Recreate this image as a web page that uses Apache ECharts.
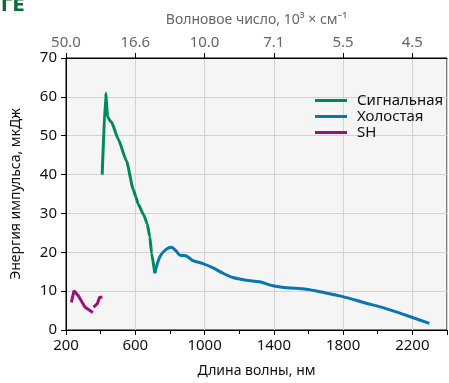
<!DOCTYPE html>
<html><head><meta charset="utf-8">
<script src="https://cdn.jsdelivr.net/npm/echarts@6/dist/echarts.min.js"></script>
<style>html,body{margin:0;padding:0;background:#fff;overflow:hidden}#c{width:449px;height:383px}</style>
</head><body><div id="c"></div>
<script>
const xTicks = [200, 600, 1000, 1400, 1800, 2200];
const waveNumLabels = ['50.0', '16.6', '10.0', '7.1', '5.5', '4.5'];

const signalX = [409, 429, 440, 450, 463, 501, 550, 588, 603, 617, 650, 669, 684, 694, 713];
const signalY = [40.0, 60.9, 55.0, 54.1, 53.5, 49.2, 43.4, 36.2, 34.3, 32.4, 29.5, 27.3, 24.0, 19.8, 14.6];

const idlerX = [713, 742, 780, 809, 834, 861, 892, 930, 991, 1049, 1107, 1164, 1241, 1318, 1395, 1472, 1587, 1683, 1798, 1933, 2048, 2163, 2298];
const idlerY = [14.6, 18.9, 20.8, 21.3, 20.4, 19.2, 19.1, 17.9, 17.1, 16.0, 14.6, 13.5, 12.8, 12.4, 11.4, 10.9, 10.5, 9.7, 8.6, 6.9, 5.5, 3.8, 1.7];

const shX = [231, 246, 271, 309, 355, null, 359, 380, 394, 410];
const shY = [7.1, 10.1, 8.8, 5.9, 4.5, null, 5.9, 6.7, 8.4, 8.4];

const pair = (xs, ys) => xs.map((x, i) => (x === null ? [null, null] : [x, ys[i]]));

const font = '"Noto Sans", "Open Sans", sans-serif';
const chart = echarts.init(document.getElementById('c'), null, {renderer: 'canvas', width: 449, height: 383});
chart.setOption({
  animation: false,
  textStyle: {fontFamily: font},
  graphic: [{type: 'text', left: 1, top: -3, z: 100, style: {text: 'ГЕ', fontSize: 18, fontWeight: 'bold', fill: '#0b6b36', fontFamily: '"DejaVu Sans", sans-serif'}}],
  grid: {left: 66, right: 2, top: 58, bottom: 48, backgroundColor: '#f5f5f5', show: true, borderColor: '#000', borderWidth: 1},
  legend: {
    left: 310, top: 88, orient: 'vertical', icon: 'rect', itemWidth: 32, itemHeight: 3, itemGap: 1,
    textStyle: {fontSize: 15, color: '#111', fontFamily: font, padding: [0, 0, 0, 5]},
    data: ['Сигнальная', 'Холостая', 'SH']
  },
  xAxis: [{
    type: 'value', min: 200, max: 2400, interval: 400, position: 'bottom',
    name: 'Длина волны, нм', nameLocation: 'middle', nameGap: 34,
    nameTextStyle: {fontSize: 14, color: '#111'},
    axisLine: {lineStyle: {color: '#000'}},
    axisTick: {show: true, length: 5, lineStyle: {color: '#000'}},
    minorTick: {show: true, splitNumber: 2, length: 4, lineStyle: {color: '#000'}},
    axisLabel: {fontSize: 15, color: '#111', margin: 8, showMaxLabel: false, formatter: v => String(v)},
    splitLine: {show: true, lineStyle: {color: '#d2d2d2', width: 1}}
  }, {
    type: 'value', min: 200, max: 2400, interval: 400, position: 'top',
    name: 'Волновое число, 10³ × см⁻¹', nameLocation: 'middle', nameGap: 31,
    nameTextStyle: {fontSize: 14, color: '#666'},
    axisLine: {lineStyle: {color: '#000'}},
    axisTick: {show: true, length: 5, lineStyle: {color: '#000'}},
    axisLabel: {fontSize: 15, color: '#666', margin: 8, showMaxLabel: false,
      formatter: v => { const i = xTicks.indexOf(v); return i >= 0 ? waveNumLabels[i] : ''; }},
    splitLine: {show: false}
  }],
  yAxis: {
    type: 'value', min: 0, max: 70, interval: 10,
    name: 'Энергия импульса, мкДж', nameLocation: 'middle', nameGap: 43,
    nameTextStyle: {fontSize: 14, color: '#111'},
    axisLine: {show: true, lineStyle: {color: '#000'}},
    axisTick: {show: true, length: 5, lineStyle: {color: '#000'}},
    axisLabel: {fontSize: 15, color: '#111', margin: 9},
    splitLine: {show: true, lineStyle: {color: '#d2d2d2', width: 1}}
  },
  series: [
    {name: 'Сигнальная', type: 'line', data: pair(signalX, signalY), symbol: 'none', smooth: 0.15, smoothMonotone: 'x',
     lineStyle: {width: 3, color: '#008a57'}, itemStyle: {color: '#008a57'}},
    {name: 'Холостая', type: 'line', data: pair(idlerX, idlerY), symbol: 'none', smooth: 0.3,
     lineStyle: {width: 3, color: '#0a75b5'}, itemStyle: {color: '#0a75b5'}},
    {name: 'SH', type: 'line', data: pair(shX, shY), symbol: 'none', connectNulls: false,
     lineStyle: {width: 3, color: '#9c1177'}, itemStyle: {color: '#9c1177'}}
  ]
});
</script></body></html>
